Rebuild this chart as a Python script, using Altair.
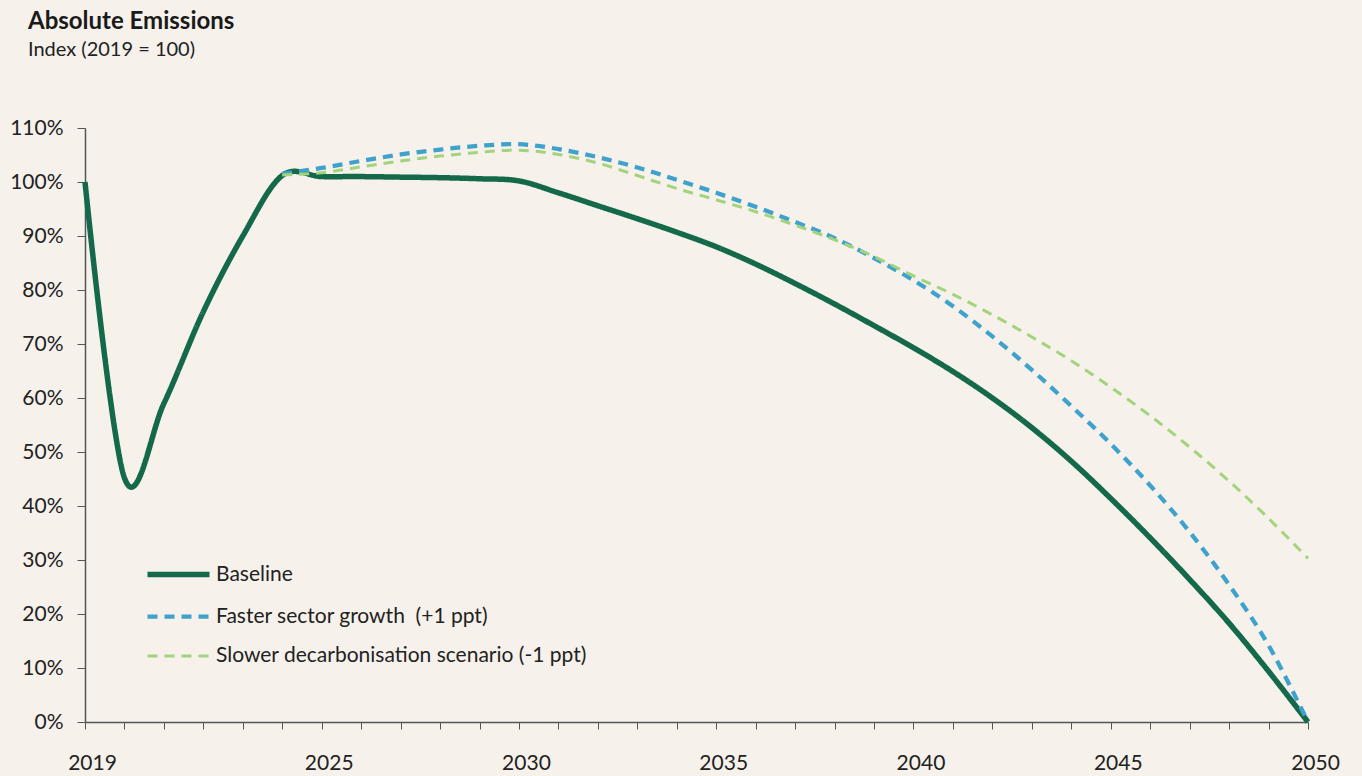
import altair as alt
import pandas as pd

# Index of absolute emissions, 2019 = 100
years = list(range(2019, 2051))
baseline = [100.0, 45.2, 59.0, 76.0, 90.0, 101.2, 101.0, 101.0, 100.9, 100.8,
            100.6, 100.2, 98.0, 95.6, 93.2, 90.7, 88.0, 84.8, 81.2, 77.4,
            73.4, 69.3, 64.9, 60.0, 54.5, 48.3, 41.4, 34.1, 26.4, 18.3,
            9.4, 0.0]

scenario_years = list(range(2024, 2051))
faster = [101.5, 102.6, 103.9, 105.1, 106.0, 106.7, 107.0, 106.1, 104.6, 102.7,
          100.4, 98.0, 95.4, 92.6, 89.6, 85.9, 81.8, 77.0, 71.4, 65.2,
          58.5, 51.5, 43.8, 35.2, 25.4, 14.2, 0.0]
slower = [101.3, 101.7, 102.8, 103.9, 104.8, 105.5, 105.9, 105.1, 103.5, 101.2,
          98.8, 96.7, 94.5, 92.0, 89.3, 86.2, 82.6, 79.2, 75.4, 71.3,
          66.9, 62.0, 56.7, 50.9, 44.6, 37.7, 30.3]

series_names = [
    "Baseline",
    "Faster sector growth\u00a0 (+1 ppt)",
    "Slower decarbonisation scenario (-1 ppt)",
]
series_colors = ["#15694b", "#3fa2cc", "#a3d47c"]
series_dashes = [[1, 0], [10, 7], [10, 7]]
series_widths = [5.5, 3, 3]

labelled_years = [2019, 2025, 2030, 2035, 2040, 2045, 2050]
y_ticks = list(range(0, 111, 10))

rows = []
for yr, v in zip(years, baseline):
    rows.append({"year": yr, "value": v, "series": series_names[0]})
for yr, v in zip(scenario_years, faster):
    rows.append({"year": yr, "value": v, "series": series_names[1]})
for yr, v in zip(scenario_years, slower):
    rows.append({"year": yr, "value": v, "series": series_names[2]})
df = pd.DataFrame(rows)

FONT = "Lato"
label_test = "indexof([" + ",".join(str(y) for y in labelled_years) + "], datum.value) >= 0 ? '' + datum.value : ''"

# Long horizontal swatch: a path twice as wide as the symbol's unit box
legend = alt.Legend(
    title=None,
    orient="none",
    legendX=75,
    legendY=428,
    symbolType="M-2,0H2",
    symbolSize=961,
    labelFont=FONT,
    labelFontSize=21,
    labelColor="#222222",
    labelOffset=19,
    labelLimit=0,
    rowPadding=12.5,
)

chart = (
    alt.Chart(df)
    .mark_line(interpolate="cardinal", strokeCap="butt")
    .encode(
        x=alt.X(
            "year:Q",
            scale=alt.Scale(domain=[2019, 2050], nice=False, zero=False),
            axis=alt.Axis(
                title=None,
                values=years,
                labelExpr=label_test,
                grid=False,
                tickSize=7,
                tickColor="#555555",
                domainColor="#555555",
                domainWidth=1.5,
                labelPadding=23,
                labelOffset=7,
                labelFont=FONT,
                labelFontSize=21,
                labelColor="#222222",
                labelFlush=False,
                labelOverlap=False,
            ),
        ),
        y=alt.Y(
            "value:Q",
            scale=alt.Scale(domain=[0, 110], nice=False),
            axis=alt.Axis(
                title=None,
                values=y_ticks,
                labelExpr="datum.value + '%'",
                grid=False,
                tickSize=8,
                tickColor="#555555",
                domainColor="#555555",
                domainWidth=1.5,
                labelPadding=14,
                labelFont=FONT,
                labelFontSize=21,
                labelColor="#222222",
            ),
        ),
        color=alt.Color(
            "series:N",
            sort=series_names,
            scale=alt.Scale(domain=series_names, range=series_colors),
            legend=legend,
        ),
        strokeDash=alt.StrokeDash(
            "series:N",
            sort=series_names,
            scale=alt.Scale(domain=series_names, range=series_dashes),
            legend=legend,
        ),
        strokeWidth=alt.StrokeWidth(
            "series:N",
            sort=series_names,
            scale=alt.Scale(domain=series_names, range=series_widths),
            legend=legend,
        ),
    )
    .properties(
        width=1223,
        height=594,
        autosize=alt.AutoSizeParams(type="none"),
        padding={"left": 85, "top": 128, "right": 54, "bottom": 54},
        background="#f6f1eb",
        title=alt.TitleParams(
            text="Absolute Emissions",
            subtitle="Index (2019 = 100)",
            anchor="start",
            frame="group",
            dx=-57,
            offset=57,
            font=FONT,
            fontSize=24,
            fontWeight="bold",
            color="#1a1a1a",
            subtitleFont=FONT,
            subtitleFontSize=20,
            subtitleColor="#222222",
            subtitlePadding=6,
        ),
    )
    .configure_view(stroke=None)
)

chart.save("out.html", embed_options={"renderer": "svg", "actions": False})
